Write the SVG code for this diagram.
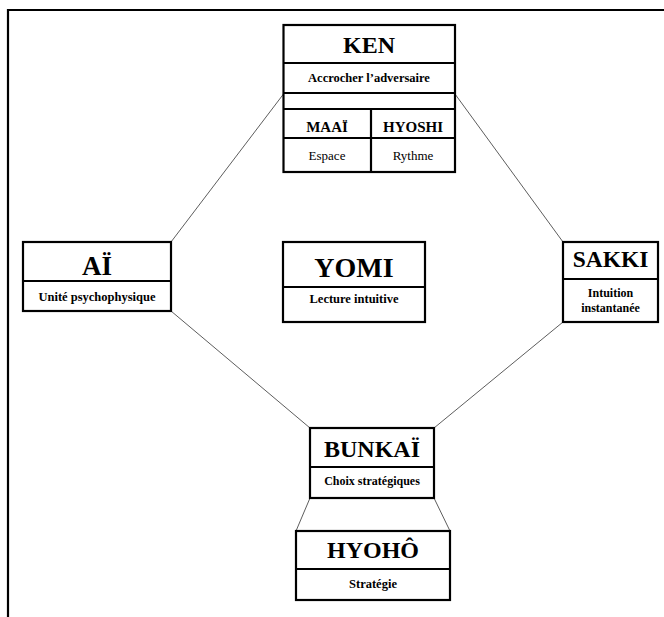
<svg xmlns="http://www.w3.org/2000/svg" width="664" height="617" viewBox="0 0 664 617">
<style>
.box{fill:#fff;stroke:#000;stroke-width:2.2}
.ln{stroke:#000;stroke-width:2.2;fill:none}
.con{stroke:#333;stroke-width:0.8;fill:none}
text{font-family:"Liberation Serif","Times New Roman",serif;text-anchor:middle;fill:#000}
.b{font-weight:bold}
</style>
<rect width="664" height="617" fill="#fff"/>
<g id="frame">
<path class="ln" d="M8,617 V10 H664"/>
</g>
<g id="connectors">
<line class="con" x1="283.5" y1="94" x2="171" y2="242"/>
<line class="con" x1="455" y1="94" x2="563" y2="242"/>
<line class="con" x1="171" y1="311" x2="310" y2="428"/>
<line class="con" x1="563" y1="322" x2="434" y2="428"/>
<line class="con" x1="310" y1="498" x2="296" y2="531"/>
<line class="con" x1="434" y1="498" x2="450" y2="531"/>
</g>
<g id="ken">
<rect class="box" x="283.5" y="25" width="171.5" height="147"/>
<line class="ln" x1="283.5" y1="63" x2="455" y2="63"/>
<line class="ln" x1="283.5" y1="93" x2="455" y2="93"/>
<line class="ln" x1="283.5" y1="109" x2="455" y2="109"/>
<line class="ln" x1="283.5" y1="138" x2="455" y2="138"/>
<line class="ln" x1="371" y1="109" x2="371" y2="172"/>
<text class="b" x="369" y="53" font-size="24">KEN</text>
<text class="b" x="369" y="82" font-size="12.5">Accrocher l’adversaire</text>
<text class="b" x="327" y="132" font-size="15">MAAÏ</text>
<text class="b" x="413" y="132" font-size="15">HYOSHI</text>
<text x="327" y="160" font-size="13">Espace</text>
<text x="413" y="160" font-size="13">Rythme</text>
</g>
<g id="ai">
<rect class="box" x="23" y="242" width="148" height="69"/>
<line class="ln" x1="23" y1="281" x2="171" y2="281"/>
<text class="b" x="97" y="275" font-size="27">AÏ</text>
<text class="b" x="97" y="301" font-size="12.5">Unité psychophysique</text>
</g>
<g id="yomi">
<rect class="box" x="283" y="242" width="142" height="80"/>
<line class="ln" x1="283" y1="287" x2="425" y2="287"/>
<text class="b" x="354" y="277" font-size="28">YOMI</text>
<text class="b" x="354" y="303" font-size="12.5">Lecture intuitive</text>
</g>
<g id="sakki">
<rect class="box" x="563" y="242" width="95" height="80"/>
<line class="ln" x1="563" y1="279" x2="658" y2="279"/>
<text class="b" x="610.5" y="267" font-size="23.5">SAKKI</text>
<text class="b" x="610.5" y="297" font-size="12">Intuition</text>
<text class="b" x="610.5" y="312" font-size="12">instantanée</text>
</g>
<g id="bunkai">
<rect class="box" x="310" y="428" width="124" height="70"/>
<line class="ln" x1="310" y1="467" x2="434" y2="467"/>
<text class="b" x="372" y="457" font-size="24">BUNKAÏ</text>
<text class="b" x="372" y="485" font-size="12">Choix stratégiques</text>
</g>
<g id="hyoho">
<rect class="box" x="296" y="531" width="154" height="69"/>
<line class="ln" x1="296" y1="569" x2="450" y2="569"/>
<text class="b" x="373" y="558" font-size="24">HYOHÔ</text>
<text class="b" x="373" y="588" font-size="12.5">Stratégie</text>
</g>
</svg>
